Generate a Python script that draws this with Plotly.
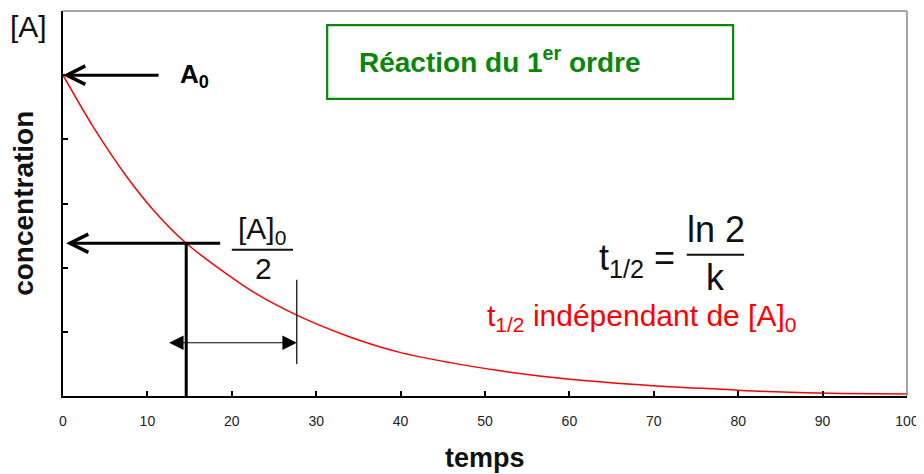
import plotly.graph_objects as go

# Curve
temps = [0, 3.6, 7.6, 10.7, 14.6, 22.2, 27.7, 34.0, 39.9, 45.9, 51.4, 60.1, 69.9, 78.7, 83.4, 92.4, 100]
concentration = [5.0, 4.19, 3.41, 2.90, 2.38, 1.65, 1.26, 0.92, 0.68, 0.52, 0.40, 0.26, 0.16, 0.10, 0.07, 0.04, 0.03]

x_ticks = [0, 10, 20, 30, 40, 50, 60, 70, 80, 90, 100]
x_tick_labels = ["0", "10", "20", "30", "40", "50", "60", "70", "80", "90", "100"]
y_ticks = [1, 2, 3, 4, 5]

A0 = concentration[0]
t_half = 14.6
half_level = 2.38
t_second = 27.7
span_start = 12.4
span_level = 0.83
marker_low, marker_high = 0.5, 1.81

fig = go.Figure()
fig.add_trace(go.Scatter(x=temps, y=concentration, mode="lines",
                         line=dict(color="#ff0000", width=1.5, shape="spline", smoothing=0.8),
                         hoverinfo="skip", showlegend=False))

FONT = "Liberation Sans, Arial, sans-serif"
GREEN = "#0a870a"

annotations = [
    # A0 arrow
    dict(x=0, y=A0, ax=11.5, ay=A0, xref="x", yref="y", axref="x", ayref="y",
         text="", showarrow=True, arrowhead=5, arrowwidth=3, arrowsize=1.2,
         arrowcolor="black", standoff=0),
    dict(x=13.6, y=A0, xref="x", yref="y", xanchor="left", yanchor="middle",
         text="<b>A<sub>0</sub></b>", showarrow=False, font=dict(size=26, color="black")),
    # half arrow
    dict(x=0.36, y=half_level, ax=18.8, ay=half_level, xref="x", yref="y", axref="x", ayref="y",
         text="", showarrow=True, arrowhead=5, arrowwidth=3, arrowsize=1.2,
         arrowcolor="black", standoff=0),
    # double arrow
    dict(x=t_second, y=span_level, ax=span_start, ay=span_level, xref="x", yref="y",
         axref="x", ayref="y", text="", showarrow=True, arrowside="end+start",
         arrowhead=2, startarrowhead=2, arrowwidth=1.2, arrowsize=2.4, startarrowsize=2.4,
         arrowcolor="black", standoff=0, startstandoff=0),
    # fraction [A]0 / 2
    dict(x=23.6, y=2.58, xref="x", yref="y", xanchor="center", yanchor="middle",
         text="[A]<sub>0</sub>", showarrow=False, font=dict(size=30, color="#111")),
    dict(x=23.7, y=1.99, xref="x", yref="y", xanchor="center", yanchor="middle",
         text="2", showarrow=False, font=dict(size=30, color="#111")),
    # formula
    dict(x=72.8, y=2.12, xref="x", yref="y", xanchor="right", yanchor="middle",
         text="t<sub>1/2</sub> =", showarrow=False, font=dict(size=36, color="#111")),
    dict(x=77.4, y=2.60, xref="x", yref="y", xanchor="center", yanchor="middle",
         text="ln 2", showarrow=False, font=dict(size=36, color="#111")),
    dict(x=77.3, y=1.84, xref="x", yref="y", xanchor="center", yanchor="middle",
         text="k", showarrow=False, font=dict(size=36, color="#111")),
    # red caption
    dict(x=50.0, y=1.22, xref="x", yref="y", xanchor="left", yanchor="middle",
         text="t<sub>1/2</sub> indépendant de [A]<sub>0</sub>", showarrow=False,
         font=dict(size=30, color="#ff0000")),
    # title in box
    dict(x=34.8, y=5.24, xref="x", yref="y", xanchor="left", yanchor="middle",
         text="<b>Réaction du 1<sup>er</sup> ordre</b>", showarrow=False,
         font=dict(size=28, color=GREEN)),
    # [A] top-left
    dict(x=-0.0403, y=0.961, xref="paper", yref="paper", xanchor="center", yanchor="middle",
         text="[A]", showarrow=False, font=dict(size=30, color="#111")),
    # axis titles
    dict(x=-0.047, y=0.5, xref="paper", yref="paper", xanchor="center", yanchor="middle",
         text="<b>concentration</b>", textangle=-90, showarrow=False,
         font=dict(size=28, color="#111")),
    dict(x=0.5, y=-0.16, xref="paper", yref="paper", xanchor="center", yanchor="middle",
         text="<b>temps</b>", showarrow=False, font=dict(size=27, color="#111")),
]

shapes = [
    # top and right gray frame
    dict(type="line", xref="paper", yref="paper", x0=0, x1=1, y0=1, y1=1,
         line=dict(color="#8a8a8a", width=1.5)),
    dict(type="line", xref="paper", yref="paper", x0=1, x1=1, y0=0, y1=1,
         line=dict(color="#8a8a8a", width=1.5)),
    # thick vertical at t_half
    dict(type="line", xref="x", yref="y", x0=t_half, x1=t_half, y0=0, y1=half_level,
         line=dict(color="black", width=3)),
    # thin vertical at second half-life
    dict(type="line", xref="x", yref="y", x0=t_second, x1=t_second, y0=marker_low, y1=marker_high,
         line=dict(color="black", width=1.2)),
    # fraction bars
    dict(type="line", xref="x", yref="y", x0=20.0, x1=27.25, y0=2.28, y1=2.28,
         line=dict(color="#111", width=2)),
    dict(type="line", xref="x", yref="y", x0=73.9, x1=80.7, y0=2.20, y1=2.20,
         line=dict(color="#111", width=2)),
    # green box
    dict(type="rect", xref="x", yref="y", x0=31.3, x1=79.4, y0=4.63, y1=5.78,
         line=dict(color=GREEN, width=2.2)),
]

# page has an 8px body margin, so the figure is 8px smaller and margins shifted
fig.update_layout(
    width=916, height=466,
    margin=dict(l=55, r=17, t=3, b=78),
    paper_bgcolor="white", plot_bgcolor="white",
    font=dict(family=FONT, color="#111"),
    annotations=annotations, shapes=shapes,
    showlegend=False,
    xaxis=dict(range=[0, 100], tickvals=x_ticks, ticktext=x_tick_labels,
               ticks="inside", ticklen=5, tickwidth=1.5, tickcolor="black",
               showline=True, linecolor="black", linewidth=2, showgrid=False, zeroline=False,
               tickfont=dict(size=14, color="#222"), ticklabelstandoff=11),
    yaxis=dict(range=[0, 6], tickvals=y_ticks, showticklabels=False,
               ticks="inside", ticklen=5, tickwidth=1.5, tickcolor="black",
               showline=True, linecolor="black", linewidth=2, showgrid=False, zeroline=False),
)

fig.write_html("out.html")
